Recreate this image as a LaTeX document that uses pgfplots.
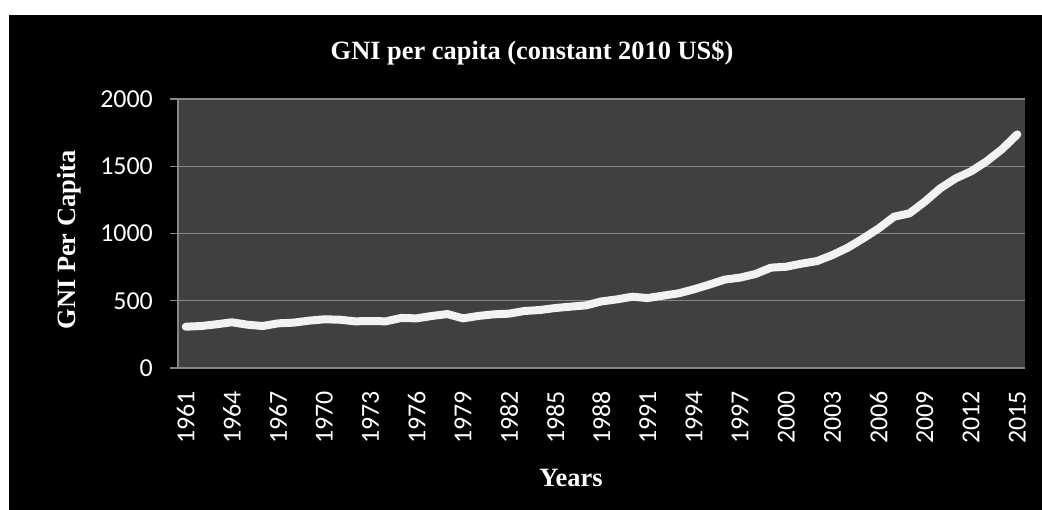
\documentclass[border=0pt]{standalone}
\usepackage{pgfplots}
\pgfplotsset{compat=1.18}
\usepackage{fontspec}
\setmainfont{Liberation Serif}
\newfontfamily\carlito{Carlito}
\definecolor{plotbg}{HTML}{404040}
\definecolor{gridgray}{HTML}{868686}
\definecolor{linewhite}{HTML}{F2F2F2}

% GNI per capita, constant 2010 US$
\pgfplotstableread{
year gni
1961 307
1962 312
1963 325
1964 340
1965 322
1966 312
1967 332
1968 337
1969 352
1970 362
1971 359
1972 347
1973 349
1974 347
1975 372
1976 369
1977 387
1978 401
1979 369
1980 387
1981 399
1982 404
1983 424
1984 431
1985 446
1986 456
1987 466
1988 495
1989 510
1990 530
1991 520
1992 538
1993 555
1994 585
1995 620
1996 657
1997 672
1998 699
1999 746
2000 753
2001 776
2002 795
2003 840
2004 895
2005 964
2006 1038
2007 1125
2008 1150
2009 1237
2010 1336
2011 1410
2012 1462
2013 1536
2014 1626
2015 1737
}\gnidata

\begin{document}
\begin{tikzpicture}[x=1bp,y=1bp]
\fill[white] (0,0) rectangle (1042,510);
\fill[black] (9,0) rectangle (1042,495);
\begin{axis}[
  at={(178bp,142bp)}, anchor=south west,
  scale only axis, width=847bp, height=269bp,
  xmin=1960.5, xmax=2015.5, ymin=0, ymax=2000,
  xtick={1961,1964,...,2015}, ytick={0,500,...,2000},
  axis x line=bottom, axis y line=left,
  axis line style={gridgray, line width=1.2bp, -},
  axis background/.style={fill=plotbg},
  ymajorgrids, major grid style={gridgray, line width=1.2bp},
  x tick style={draw=none},
  y tick style={gridgray, line width=1.2bp},
  tick align=outside, major tick length=8bp,
  /pgf/number format/assume math mode=true,
  /pgf/number format/1000 sep={},
  tick label style={font=\carlito\fontsize{26}{30}\selectfont, text=white},
  xticklabel style={rotate=90, anchor=east, inner sep=0pt},
  xticklabel shift=15bp,
  yticklabel style={anchor=east, inner sep=0pt},
  yticklabel shift=17bp,
  title={GNI per capita (constant 2010 US\$)},
  title style={at={(axis description cs:0.418,1.126)}, anchor=base,
    font=\bfseries\fontsize{26.5}{30}\selectfont, text=white},
  xlabel={Years},
  xlabel style={at={(axis description cs:0.464,-0.442)}, anchor=base,
    font=\bfseries\fontsize{26.5}{30}\selectfont, text=white},
  ylabel={GNI Per Capita},
  ylabel style={at={(axis description cs:-0.1216,0.476)}, anchor=base,
    font=\bfseries\fontsize{26.5}{30}\selectfont, text=white},
]
\addplot[linewhite, line width=8bp, line join=round, line cap=round, mark=none]
  table[x=year, y=gni] {\gnidata};
\end{axis}
\end{tikzpicture}
\end{document}
